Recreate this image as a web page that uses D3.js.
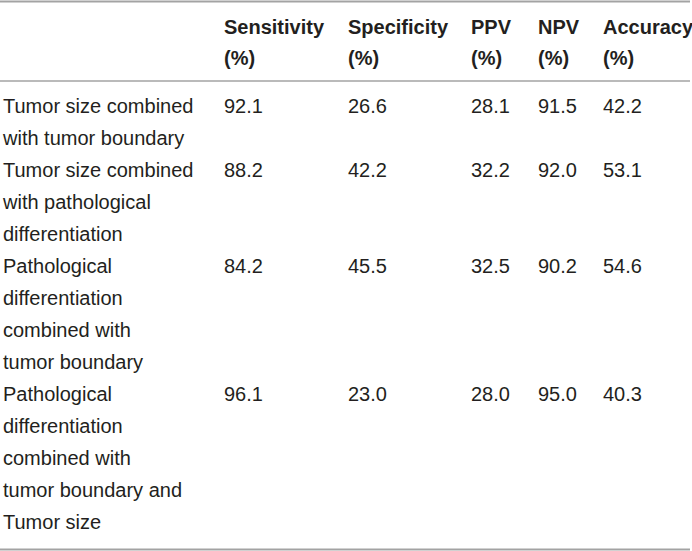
<!DOCTYPE html>
<html>
<head>
<meta charset="utf-8">
<script src="https://cdn.jsdelivr.net/npm/d3@7"></script>
<style>
  html, body { margin: 0; padding: 0; background: #fff; }
  text { font-family: "Liberation Sans", Arial, Helvetica, sans-serif; fill: #231f20; }
</style>
</head>
<body>
<div id="table"></div>
<script>
// Diagnostic performance of combined predictors, drawn as a ruled table.

const columns = ['Sensitivity', 'Specificity', 'PPV', 'NPV', 'Accuracy'];
const unitLabel = '(%)';

const rowLabels = [
  ['Tumor size combined', 'with tumor boundary'],
  ['Tumor size combined', 'with pathological', 'differentiation'],
  ['Pathological', 'differentiation', 'combined with', 'tumor boundary'],
  ['Pathological', 'differentiation', 'combined with', 'tumor boundary and', 'Tumor size']
];

const sensitivity = [92.1, 88.2, 84.2, 96.1];
const specificity = [26.6, 42.2, 45.5, 23.0];
const ppv = [28.1, 32.2, 32.5, 28.0];
const npv = [91.5, 92.0, 90.2, 95.0];
const accuracy = [42.2, 53.1, 54.6, 40.3];

const values = {
  Sensitivity: sensitivity,
  Specificity: specificity,
  PPV: ppv,
  NPV: npv,
  Accuracy: accuracy
};

const width = 692;
const height = 551;
const lineStep = 32;
const fontSize = 20;

// column left edges
const x = d3.scaleOrdinal().domain(columns).range([224, 348, 471, 538, 603]);
const labelX = 3;

// text baselines by line index
const headerY = d3.scaleLinear().domain([0, 1]).range([34, 34 + lineStep - 1]);
const bodyY = d3.scaleLinear().domain([0, 1]).range([113, 113 + lineStep]);

const rowStart = [];
rowLabels.reduce((acc, lines) => {
  rowStart.push(acc);
  return acc + lines.length;
}, 0);

const svg = d3
  .select('#table')
  .append('svg')
  .attr('width', width)
  .attr('height', height);

// rules
const rules = [
  { y: 1.5, w: 2 },
  { y: 81, w: 1.5 },
  { y: 549.5, w: 2 }
];
svg
  .selectAll('line.rule')
  .data(rules)
  .join('line')
  .attr('class', 'rule')
  .attr('x1', 0)
  .attr('x2', 690)
  .attr('y1', (d) => d.y)
  .attr('y2', (d) => d.y)
  .attr('stroke', '#a3a3a3')
  .attr('stroke-width', (d) => d.w);

// header
const header = svg.selectAll('g.header').data(columns).join('g').attr('class', 'header');
header
  .append('text')
  .attr('x', (d) => x(d))
  .attr('y', headerY(0))
  .attr('font-size', fontSize)
  .attr('font-weight', 'bold')
  .text((d) => d);
header
  .append('text')
  .attr('x', (d) => x(d))
  .attr('y', headerY(1))
  .attr('font-size', fontSize)
  .attr('font-weight', 'bold')
  .text(unitLabel);

// row labels
rowLabels.forEach((lines, r) => {
  svg
    .append('g')
    .selectAll('text')
    .data(lines)
    .join('text')
    .attr('x', labelX)
    .attr('y', (d, i) => bodyY(rowStart[r] + i))
    .attr('font-size', fontSize)
    .text((d) => d);
});

// values
columns.forEach((col) => {
  svg
    .append('g')
    .selectAll('text')
    .data(values[col])
    .join('text')
    .attr('x', x(col))
    .attr('y', (d, r) => bodyY(rowStart[r]))
    .attr('font-size', fontSize)
    .text((d) => d.toFixed(1));
});
</script>
</body>
</html>
